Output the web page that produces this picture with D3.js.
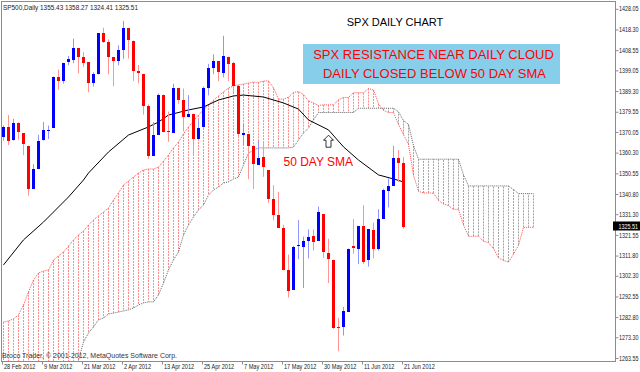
<!DOCTYPE html>
<html>
<head>
<meta charset="UTF-8">
<title>SPX daily chart</title>
<style>
  body { margin: 0; background: #fff; }
  svg { display: block; }
  text { font-family: "Liberation Sans", Arial, sans-serif; }
  .small { font-size: 7px; fill: #222; }
  .price { font-size: 6.8px; fill: #222; }
</style>
</head>
<body>
<div id="chart"></div>
<script src="https://d3js.org/d3.v7.min.js"></script>
<script>
// daily bars, 28 Feb 2012 .. 21 Jun 2012
var opens = [1367.56,1372.20,1365.90,1374.09,1369.59,1363.63,1343.39,1352.65,1365.97,1370.78,
  1371.92,1395.95,1394.17,1402.55,1404.17,1409.59,1405.52,1402.89,1392.78,1397.11,
  1416.55,1412.52,1405.39,1403.31,1408.47,1418.98,1413.09,1398.79,1397.45,1382.18,
  1358.98,1368.77,1387.61,1370.27,1369.57,1390.78,1385.08,1376.96,1378.53,1366.97,
  1372.11,1390.64,1400.19,1403.26,1397.86,1405.50,1402.32,1391.51,1368.79,1369.16,
  1363.20,1354.58,1358.11,1351.93,1338.36,1330.78,1324.82,1305.05,1295.73,1316.09,
  1316.02,1318.72,1320.81,1318.90,1331.25,1313.09,1309.87,1278.29,1277.82,1285.61,
  1316.15,1314.99,1325.72,1309.40,1324.02,1314.88,1329.19,1342.42,1344.83,1357.98,
  1355.43];
var highs = [1373.09,1378.04,1376.17,1374.53,1369.59,1363.63,1354.85,1368.72,1374.76,1373.04,
  1396.13,1399.42,1402.63,1405.88,1414.00,1409.59,1407.75,1402.89,1398.18,1416.58,
  1419.15,1413.65,1405.39,1410.89,1422.38,1419.00,1413.09,1401.60,1397.45,1383.01,
  1374.71,1388.13,1387.61,1379.66,1392.76,1390.78,1390.46,1387.40,1378.53,1375.57,
  1391.37,1402.09,1406.64,1403.26,1415.32,1405.50,1403.07,1391.51,1373.91,1369.16,
  1363.73,1365.88,1365.66,1351.93,1344.94,1341.78,1326.36,1312.24,1316.39,1328.49,
  1320.71,1324.14,1324.20,1334.93,1331.25,1319.74,1309.87,1282.55,1287.62,1315.13,
  1329.05,1325.81,1335.52,1324.31,1327.28,1333.68,1343.32,1348.22,1363.46,1361.57,
  1358.27];
var lows = [1365.97,1363.81,1365.90,1366.42,1359.13,1340.03,1343.39,1352.65,1365.97,1366.69,
  1371.92,1389.97,1392.78,1401.47,1402.43,1397.68,1400.64,1388.73,1391.35,1397.11,
  1411.95,1397.20,1391.56,1401.42,1404.46,1404.62,1394.09,1392.92,1378.24,1357.38,
  1358.98,1368.77,1369.85,1365.38,1369.57,1383.29,1370.30,1376.96,1358.79,1366.82,
  1372.11,1387.28,1397.31,1394.00,1395.73,1393.92,1388.71,1367.96,1363.94,1347.75,
  1343.13,1354.58,1348.89,1336.61,1328.41,1324.79,1304.86,1291.98,1295.73,1310.04,
  1296.53,1310.50,1314.23,1318.90,1310.76,1298.90,1277.25,1266.74,1274.16,1285.61,
  1312.68,1307.77,1307.73,1306.62,1310.51,1314.14,1329.19,1334.46,1344.83,1346.45,
  1324.41];
var closes = [1372.18,1365.68,1374.09,1369.63,1364.33,1343.36,1352.63,1365.91,1370.87,1371.09,
  1395.95,1394.28,1402.60,1404.17,1409.75,1405.52,1402.89,1392.78,1397.11,1416.51,
  1412.52,1405.54,1403.28,1408.47,1419.04,1413.38,1398.96,1398.08,1382.20,1358.59,
  1368.71,1387.57,1370.26,1369.57,1390.78,1385.14,1376.92,1378.53,1366.94,1371.97,
  1390.69,1399.98,1403.36,1397.91,1405.82,1402.31,1391.57,1369.10,1369.58,1363.72,
  1354.58,1357.99,1353.39,1338.35,1330.66,1324.80,1304.86,1295.22,1315.99,1316.63,
  1318.86,1320.68,1317.82,1332.42,1313.32,1310.33,1278.04,1278.18,1285.50,1315.13,
  1314.99,1325.66,1308.93,1324.18,1314.88,1329.10,1342.84,1344.78,1357.98,1355.69,
  1325.51];

// ichimoku cloud, bar 0 .. bar 106 (26 bars ahead)
var spanA = [1280.5,1281.0,1282.0,1283.8,1288.5,1294.7,1300.3,1303.6,1304.5,1305.0,
  1309.7,1311.6,1313.5,1316.3,1319.2,1321.5,1323.4,1326.2,1328.6,1330.5,
  1332.3,1334.2,1338.0,1341.3,1345.1,1346.9,1348.8,1350.7,1352.1,1352.6,
  1352.6,1353.5,1356.3,1359.2,1362.5,1365.3,1369.1,1372.4,1375.2,1378.0,
  1380.4,1382.7,1385.1,1387.0,1388.9,1390.7,1391.7,1392.2,1392.6,1393.1,
  1393.5,1393.4,1394.0,1394.1,1390.8,1385.5,1385.5,1386.4,1388.7,1389.0,
  1387.6,1384.7,1383.7,1382.5,1382.8,1382.8,1382.8,1385.2,1386.3,1386.3,
  1388.5,1388.5,1388.5,1390.5,1389.8,1383.3,1380.2,1379.2,1379.2,1373.5,
  1368.8,1364.1,1349.7,1342.1,1341.3,1341.3,1341.2,1337.8,1336.1,1335.3,
  1333.6,1333.6,1326.2,1320.9,1320.9,1320.9,1318.5,1317.9,1315.1,1310.7,
  1309.5,1308.7,1312.5,1316.6,1325.1,1325.1,1325.1];
var spanB = [1241,1241,1243,1243,1246,1246,1246,1249,1249,1251,
  1251,1254,1254,1256,1258,1262.5,1271.1,1275.3,1278.2,1281.5,
  1282.4,1284.3,1284.7,1285.2,1285.7,1286.2,1287.1,1288.5,1289.5,1290.0,
  1290.0,1293.3,1298.9,1305.0,1309.8,1313.5,1321.5,1326.2,1330.0,1333.3,
  1335.6,1340.3,1342.7,1344.1,1346.0,1346.5,1347.9,1348.8,1354.5,1360.1,
  1361.5,1362.5,1362.5,1362.5,1362.5,1362.5,1362.5,1362.5,1362.9,1366.2,
  1369.5,1371.9,1375.7,1379.2,1379.2,1379.2,1379.2,1379.2,1379.2,1379.2,
  1379.2,1381.2,1381.2,1381.2,1381.2,1381.2,1381.2,1381.2,1381.2,1379.5,
  1375.4,1373.6,1363.6,1357.2,1357.2,1357.2,1357.2,1357.2,1357.2,1357.2,
  1357.2,1357.2,1349.8,1344.6,1344.6,1344.6,1344.6,1344.6,1344.6,1344.6,
  1344.6,1344.6,1342.9,1341.0,1341.0,1341.0,1341.0];

// 50 day SMA (bar index, value)
var smaIdx = [0,4,8,13,16,17,21,25,29,31,33,37,40,43,46,48,52,56,59,61,65,68,71,75,78,80];
var smaVal = [1307.4,1319.2,1327.6,1339.4,1347.4,1350.7,1360.6,1368.6,1372.4,1374.7,1378.0,1380.4,
  1381.8,1385.1,1387.0,1387.4,1386.5,1383.7,1380.8,1375.7,1371.0,1363.0,1356.8,1349.8,1347.9,1346.5];

var dateTicks = [0, 8, 16, 24, 32, 40, 48, 56, 64, 72, 80];
var dateLabels = ["28 Feb 2012", "9 Mar 2012", "21 Mar 2012", "2 Apr 2012", "13 Apr 2012",
  "25 Apr 2012", "7 May 2012", "17 May 2012", "30 May 2012", "11 Jun 2012", "21 Jun 2012"];
var priceTicks = [1428.05, 1418.30, 1408.55, 1399.05, 1389.30, 1379.55, 1370.05, 1360.30, 1350.55,
  1340.80, 1331.30, 1321.55, 1311.80, 1302.30, 1292.55, 1282.80, 1273.30, 1263.55];
var lastPrice = 1325.51;

var width = 640, height = 372;
var plot = { left: 1, top: 1, right: 615, bottom: 361 };
var squeeze = 0.8;   // terminal font is narrower than Arial

var svg = d3.select("#chart").append("svg")
  .attr("width", width).attr("height", height);

var x = d3.scaleLinear().domain([0, 80]).range([3.5, 403.5]);
var xTick = d3.scaleLinear().domain([0, 80]).range([2, 402]);
var y = d3.scaleLinear().domain([1263.55, 1428.05]).range([358, 8.8]);

function narrow(sel, k) {
  sel.each(function() {
    var w = this.getComputedTextLength();
    d3.select(this).attr("textLength", w * k).attr("lengthAdjust", "spacingAndGlyphs");
  });
}

svg.append("clipPath").attr("id", "clip")
  .append("rect")
  .attr("x", plot.left + 1).attr("y", plot.top + 1)
  .attr("width", plot.right - plot.left - 1).attr("height", plot.bottom - plot.top - 1);

var body = svg.append("g").attr("clip-path", "url(#clip)");

// cloud histogram
var cloudIdx = d3.range(spanA.length);
body.append("g").selectAll("line")
  .data(cloudIdx)
  .join("line")
  .attr("x1", d => x(d)).attr("x2", d => x(d))
  .attr("y1", d => y(spanA[d])).attr("y2", d => y(spanB[d]))
  .attr("stroke", d => spanA[d] >= spanB[d] ? "#ff8c8c" : "#a4a4a4")
  .attr("stroke-width", 1)
  .attr("stroke-dasharray", "2,1");

var cloudLine = d3.line().x(d => x(d[0])).y(d => y(d[1]));
body.append("path")
  .attr("d", cloudLine(cloudIdx.map(d => [d, spanB[d]])))
  .attr("fill", "none").attr("stroke", "#666").attr("stroke-dasharray", "1,1");
body.append("path")
  .attr("d", cloudLine(cloudIdx.map(d => [d, spanA[d]])))
  .attr("fill", "none").attr("stroke", "#ff5050").attr("stroke-dasharray", "1,1");

// SMA
body.append("path")
  .attr("d", d3.line().x(d => x(d[0])).y(d => y(d[1]))(smaIdx.map((d, k) => [d, smaVal[k]])))
  .attr("fill", "none").attr("stroke", "#000").attr("stroke-width", 1);

// candles
var bars = body.append("g").selectAll("g")
  .data(d3.range(closes.length))
  .join("g");

bars.append("line")
  .attr("x1", d => x(d)).attr("x2", d => x(d))
  .attr("y1", d => y(highs[d])).attr("y2", d => y(lows[d]))
  .attr("stroke", d => closes[d] >= opens[d] ? "#9494ff" : "#ff9494");

bars.append("rect")
  .attr("x", d => x(d) - 1.5)
  .attr("width", 3)
  .attr("y", d => Math.round(y(Math.max(opens[d], closes[d]))))
  .attr("height", d => Math.max(1, Math.round(y(Math.min(opens[d], closes[d])) - y(Math.max(opens[d], closes[d])))))
  .attr("fill", d => closes[d] >= opens[d] ? "#0000ff" : "#ff0000");

// frame
svg.append("rect")
  .attr("x", plot.left + 0.5).attr("y", plot.top + 0.5)
  .attr("width", plot.right - plot.left).attr("height", plot.bottom - plot.top)
  .attr("fill", "none").attr("stroke", "#8c8c8c");

// price axis
var yAxis = svg.append("g")
  .attr("transform", "translate(" + (plot.right + 0.5) + ",0)")
  .call(d3.axisRight(y).tickValues(priceTicks).tickFormat(d3.format(".2f")).tickSize(3).tickPadding(0));
yAxis.attr("font-family", null).attr("font-size", null);
yAxis.select(".domain").remove();
yAxis.selectAll("line").attr("stroke", "#8c8c8c");
yAxis.selectAll("text").attr("class", "price")
  .attr("x", 3.5 / squeeze)
  .attr("transform", "scale(" + squeeze + ",1)");

// date axis
var xAxis = svg.append("g")
  .attr("transform", "translate(0," + (plot.bottom + 0.5) + ")")
  .call(d3.axisBottom(xTick).tickValues(dateTicks).tickFormat((d, k) => dateLabels[k]).tickSize(3).tickPadding(1));
xAxis.attr("font-family", null).attr("font-size", null);
xAxis.select(".domain").remove();
xAxis.selectAll("line").attr("stroke", "#8c8c8c");
xAxis.selectAll("text").attr("class", "small")
  .attr("text-anchor", "start").attr("x", 1.5).attr("y", 2.5).attr("dy", "0.72em")
  .call(narrow, squeeze);

// last price marker
svg.append("rect")
  .attr("x", plot.right - 2).attr("y", Math.round(y(lastPrice)) - 4.5)
  .attr("width", width - plot.right + 2).attr("height", 9)
  .attr("fill", "#000");
svg.append("g")
  .attr("transform", "translate(" + (plot.right + 3.5) + "," + y(lastPrice) + ") scale(" + squeeze + ",1)")
  .append("text")
  .attr("class", "price").style("fill", "#fff")
  .attr("dy", "0.35em")
  .text(d3.format(".2f")(lastPrice));

// header and copyright
svg.append("text").attr("class", "small")
  .attr("x", 3).attr("y", 9.5)
  .attr("textLength", 135).attr("lengthAdjust", "spacingAndGlyphs")
  .text("SP500,Daily  1355.43 1358.27 1324.41 1325.51");
svg.append("text").attr("class", "small").style("fill", "#333")
  .attr("x", 2).attr("y", 358)
  .attr("textLength", 175).attr("lengthAdjust", "spacingAndGlyphs")
  .text("Broco Trader, \u00a9 2001-2012, MetaQuotes Software Corp.");

// annotations
svg.append("text")
  .attr("x", 395).attr("y", 25.5).attr("text-anchor", "middle")
  .style("font-size", "11px").style("fill", "#000")
  .text("SPX DAILY CHART");

svg.append("rect")
  .attr("x", 303).attr("y", 44).attr("width", 257).attr("height", 40)
  .attr("fill", "#87ceeb");
svg.append("text")
  .attr("x", 433.5).attr("y", 58.5).attr("text-anchor", "middle")
  .style("font-size", "13px").style("fill", "#ff0000")
  .text("SPX RESISTANCE NEAR DAILY CLOUD");
svg.append("text")
  .attr("x", 434.5).attr("y", 77.7).attr("text-anchor", "middle")
  .style("font-size", "13px").style("fill", "#ff0000")
  .text("DAILY CLOSED BELOW 50 DAY SMA");

svg.append("text")
  .attr("x", x(56)).attr("y", y(1354)).style("font-size", "12px").style("fill", "#ff0000")
  .text("50 DAY SMA");

var ax = x(65), ay = y(1368.5);
svg.append("path")
  .attr("d", "M" + ax + "," + ay + "l5,5h-2.5v7h-5v-7h-2.5z")
  .attr("fill", "#fff").attr("stroke", "#000").attr("stroke-width", 0.8);
</script>
</body>
</html>
